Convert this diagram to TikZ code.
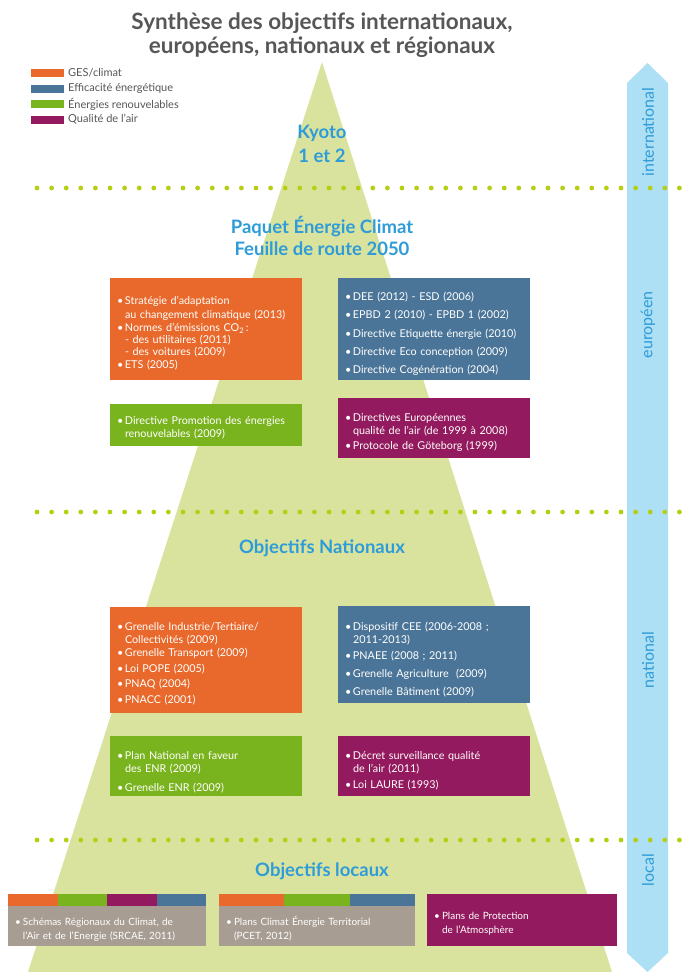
\documentclass[tikz,border=0pt]{standalone}
\usepackage{fontspec}
\setmainfont{Lato}
\definecolor{cOr}{HTML}{E8692B}
\definecolor{cBl}{HTML}{4B7598}
\definecolor{cGr}{HTML}{79B31E}
\definecolor{cPu}{HTML}{931A5E}
\definecolor{cTan}{HTML}{A89D92}
\definecolor{cTri}{HTML}{DAE39D}
\definecolor{cDot}{HTML}{B7CE13}
\definecolor{cArr}{HTML}{ADDFF5}
\definecolor{cHead}{HTML}{2E9CD8}
\definecolor{cTitle}{HTML}{575757}
\newcommand{\itm}[1]{\par\noindent\makebox[8pt][l]{\textbullet}\parbox[t]{\dimexpr\linewidth-8pt\relax}{\raggedright #1}\par}
\begin{document}
\begin{tikzpicture}[x=1pt,y=-1pt,
  box/.style={anchor=center, inner xsep=7pt, inner ysep=0pt, text=white, align=left,
    text width=178pt, font=\fontsize{10.8}{13}\selectfont},
  lbox/.style={anchor=center, inner xsep=7pt, inner ysep=0pt, text=white, align=left,
    font=\fontsize{10}{14}\selectfont},
  head/.style={text=cHead, font=\fontsize{18.5}{22}\selectfont\bfseries, align=center},
  side/.style={text=cHead, rotate=90, font=\fontsize{16}{18}\selectfont},
  swatch/.style={minimum width=33pt, minimum height=8pt, inner sep=0pt, anchor=west},
  legtxt/.style={text=cTitle, anchor=west, inner sep=0pt, font=\fontsize{11}{13}\selectfont}
]
\useasboundingbox (0,0) rectangle (682,972);
\fill[white] (0,0) rectangle (682,972);
% pyramid
\fill[cTri] (322,62) -- (612,972) -- (28,972) -- cycle;
% side arrow
\fill[cArr] (627,83) -- (647.5,63) -- (668,83) -- (668,953) -- (647.5,972) -- (627,953) -- cycle;
% dotted separators
\foreach \yy in {188,512,840}{
  \foreach \xx in {37,51.6,...,682}{\fill[cDot] (\xx,\yy) circle (2.4);}
}
% side labels
\node[side] (sInt) at (648,132) {international};
\node[side] (sEur) at (648,325) {européen};
\node[side] (sNat) at (648,660) {national};
\node[side] (sLoc) at (648,870) {local};
% title
\node[text=cTitle, font=\fontsize{22.5}{24.5}\selectfont\bfseries, align=center] (title) at (322,35)
  {Synthèse des objectifs internationaux,\\européens, nationaux et régionaux};
% legend
\node[swatch, fill=cOr] (lg1) at (31,73) {};
\node[swatch, fill=cBl] (lg2) at (31,88.5) {};
\node[swatch, fill=cGr] (lg3) at (31,104) {};
\node[swatch, fill=cPu] (lg4) at (31,119.5) {};
\node[legtxt] (lt1) at (68,73) {GES/climat};
\node[legtxt] (lt2) at (68,88.5) {Efficacité énergétique};
\node[legtxt] (lt3) at (68,104) {Énergies renouvelables};
\node[legtxt] (lt4) at (68,119.5) {Qualité de l'air};
% headings
\node[head, font=\fontsize{18.5}{24}\selectfont\bfseries] (kyoto) at (322,144) {Kyoto\\1 et 2};
\node[head] (paquet) at (322,236) {Paquet Énergie Climat\\Feuille de route 2050};
\node[head] (nat) at (322,548) {Objectifs Nationaux};
\node[head] (loc) at (322,871) {Objectifs locaux};
% european boxes
\node[box, fill=cOr, minimum height=102pt, font=\fontsize{10.8}{14}\selectfont] (eOr) at (206,329) {\setlength{\parskip}{2.5pt}%
  \itm{Stratégie d'adaptation\\au changement climatique (2013)}%
  \itm{Normes d'émissions CO\textsubscript{2}\,:\\[-2pt]- des utilitaires (2011)\\[-2.5pt]- des voitures (2009)}%
  \itm{ETS (2005)}};
\node[box, fill=cBl, minimum height=102pt] (eBl) at (434,329) {\setlength{\parskip}{5.3pt}%
  \itm{DEE (2012) - ESD (2006)}%
  \itm{EPBD 2 (2010) - EPBD 1 (2002)}%
  \itm{Directive Etiquette énergie (2010)}%
  \itm{Directive Eco conception (2009)}%
  \itm{Directive Cogénération (2004)}};
\node[box, fill=cGr, minimum height=42pt] (eGr) at (206,425) {%
  \itm{Directive Promotion des énergies\\renouvelables (2009)}};
\node[box, fill=cPu, minimum height=60pt] (ePu) at (434,428) {\setlength{\parskip}{4pt}%
  \itm{Directives Européennes\\qualité de l'air (de 1999 à 2008)}%
  \itm{Protocole de Göteborg (1999)}};
% national boxes
\node[box, fill=cOr, minimum height=106pt] (nOr) at (206,660) {\setlength{\parskip}{2.5pt}%
  \itm{Grenelle Industrie/Tertiaire/\\Collectivités (2009)}%
  \itm{Grenelle Transport (2009)}%
  \itm{Loi POPE (2005)}%
  \itm{PNAQ (2004)}%
  \itm{PNACC (2001)}};
\node[box, fill=cBl, minimum height=97pt] (nBl) at (434,654.5) {\setlength{\parskip}{5pt}%
  \itm{Dispositif CEE (2006-2008 ;\\2011-2013)}%
  \itm{PNAEE (2008 ; 2011)}%
  \itm{Grenelle Agriculture~~(2009)}%
  \itm{Grenelle Bâtiment (2009)}};
\node[box, fill=cGr, minimum height=60pt] (nGr) at (206,766) {\setlength{\parskip}{8pt}%
  \itm{Plan National en faveur\\des ENR (2009)}%
  \itm{Grenelle ENR (2009)}};
\node[box, fill=cPu, minimum height=60pt] (nPu) at (434,766) {\setlength{\parskip}{5pt}%
  \itm{Décret surveillance qualité\\de l'air (2011)}%
  \itm{Loi LAURE (1993)}};
% local boxes
\fill[cOr] (8,894) rectangle (57.5,906);
\fill[cGr] (57.5,894) rectangle (107,906);
\fill[cPu] (107,894) rectangle (156.5,906);
\fill[cBl] (156.5,894) rectangle (206,906);
\node[lbox, fill=cTan, minimum width=198pt, minimum height=40pt, text width=184pt] (l1) at (107,926)
  {\itm{Schémas Régionaux du Climat, de\\l'Air et de l'Energie (SRCAE, 2011)}};
\fill[cOr] (219,894) rectangle (284.3,906);
\fill[cGr] (284.3,894) rectangle (349.7,906);
\fill[cBl] (349.7,894) rectangle (415,906);
\node[lbox, fill=cTan, minimum width=196pt, minimum height=40pt, text width=182pt] (l2) at (317,926)
  {\itm{Plans Climat Énergie Territorial\\(PCET, 2012)}};
\node[lbox, fill=cPu, minimum width=190pt, minimum height=52pt, text width=176pt] (l3) at (522,920)
  {\itm{Plans de Protection\\de l'Atmosphère}};
\end{tikzpicture}
\end{document}
